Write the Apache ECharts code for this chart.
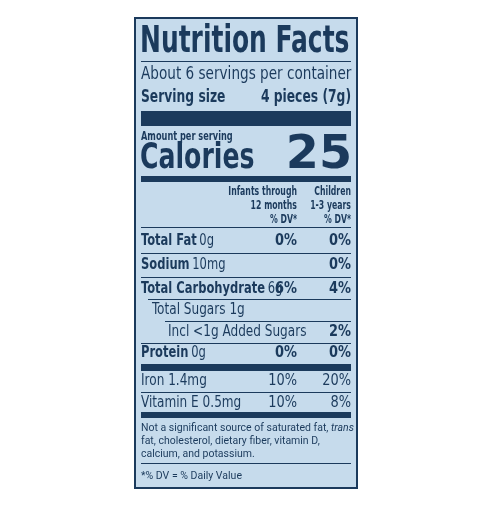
<!DOCTYPE html>
<html><head><meta charset="utf-8">
<script src="https://cdn.jsdelivr.net/npm/echarts@6/dist/echarts.min.js"></script>
<style>html,body{margin:0;padding:0;background:#fff}#c{width:490px;height:509px}</style>
</head><body><div id="c"></div>
<script>
const title = "Nutrition Facts";
const servingsLine = "About 6 servings per container";
const servingSizeLabel = "Serving size";
const servingSizeValue = "4 pieces (7g)";
const calories = "25";
const colHeaders1 = ["Infants through", "12 months", "% DV*"];
const colHeaders2 = ["Children", "1-3 years", "% DV*"];
const nutrientNames = ["Total Fat", "Sodium", "Total Carbohydrate", "Total Sugars 1g", "Incl <1g Added Sugars", "Protein", "Iron 1.4mg", "Vitamin E 0.5mg"];
const nutrientAmounts = ["0g", "10mg", "6g", "", "", "0g", "", ""];
const nutrientBold = [true, true, true, false, false, true, false, false];
const dvInfants = ["0%", "", "6%", "", "", "0%", "10%", "10%"];
const dvChildren = ["0%", "0%", "4%", "", "2%", "0%", "20%", "8%"];
const footnote = ["Not a significant source of saturated fat, ", "fat, cholesterol, dietary fiber, vitamin D,", "calcium, and potassium."];
const dvNote = "*% DV = % Daily Value";

const DK = '#1b3a5c', BG = '#c6dbec';
const F = '"DejaVu Sans Condensed",sans-serif';
const F2 = 'Roboto,"Liberation Sans",sans-serif';
const L = 141, R = 351, C1 = 297;
const g = [];
function rect(x,y,w,h,c){g.push({type:'rect',shape:{x,y,width:w,height:h},style:{fill:c||DK}});}
function hl(x1,y,x2){rect(x1,y,x2-x1,1,DK);}
function txt(t,x,y,sz,wt,al,ff,fs,sc){
  const s = sc || (ff===F2 ? 0.955 : (wt==='bold' ? 0.76 : 0.84));
  g.push({type:'text',x,y,scaleX:s,style:{x:0,y:0,text:t,fill:DK,font:(fs||'normal')+' '+(wt||'normal')+' '+sz+'px '+(ff||F),align:al||'left',verticalAlign:'middle'}});
}
function rt(parts,x,y){g.push({type:'text',x,y,scaleX:0.8,style:{x:0,y:0,text:parts,fill:DK,align:'left',verticalAlign:'middle',rich:{b:{font:'bold 16px '+F,fill:DK},n:{font:'normal 16px '+F,fill:DK}}}});}

rect(134,17,224,472,DK); rect(136,19,220,468,BG);
txt(title,L-1,42,37,'bold','left',F,'normal',0.75);
hl(L,61,R);
txt(servingsLine,L,74,18,'normal');
txt(servingSizeLabel,L,97,18,'bold');
txt(servingSizeValue,R,97,18,'bold','right');
rect(L,111,R-L,15);
txt("Amount per serving",L,137,12,'bold');
txt("Calories",L-1,159,35,'bold','left',F,'normal',0.8);
txt(calories,R+1,156,46,'bold','right',F,'normal',1.15);
rect(L,176,R-L,6);
for(let i=0;i<3;i++){txt(colHeaders1[i],C1,192+i*14,12,'bold','right',F,'normal',0.72);txt(colHeaders2[i],R,192+i*14,12,'bold','right',F,'normal',0.72);}
hl(L,227,R);
const rowY=[241,265,289,310,332,353,381,403];
const indent=[L,L,L,152,168,L,L,L];
const lineStart=[L,L,148,165,L,null,L,null];
const lineY=[253,277,299,321,343,null,392,null];
nutrientNames.forEach((n,i)=>{
  if(nutrientBold[i]) rt('{b|'+n+'} {n|'+nutrientAmounts[i]+'}',indent[i],rowY[i]);
  else txt(n,indent[i],rowY[i],16,'normal');
  if(dvInfants[i]) txt(dvInfants[i],C1,rowY[i],16,nutrientBold[i]?'bold':'normal','right',F,'normal',0.9);
  if(dvChildren[i]) txt(dvChildren[i],R,rowY[i],16,(nutrientBold[i]||i===4)?'bold':'normal','right',F,'normal',0.9);
  if(lineY[i]!==null) hl(lineStart[i],lineY[i],R);
});
rect(L,364,R-L,7);
rect(L,412,R-L,6);
g.push({type:'text',x:L,y:428,scaleX:0.955,style:{x:0,y:0,text:'{a|'+footnote[0]+'}{i|trans}',align:'left',verticalAlign:'middle',rich:{a:{font:'11px '+F2,fill:DK},i:{font:'italic 11px '+F2,fill:DK}}}});
txt(footnote[1],L,441,11,'normal','left',F2);
txt(footnote[2],L,454,11,'normal','left',F2);
hl(L,463,R);
txt(dvNote,L,476,11,'normal','left',F2);

const chart = echarts.init(document.getElementById('c'));
chart.setOption({animation:false,graphic:g});
</script></body></html>
